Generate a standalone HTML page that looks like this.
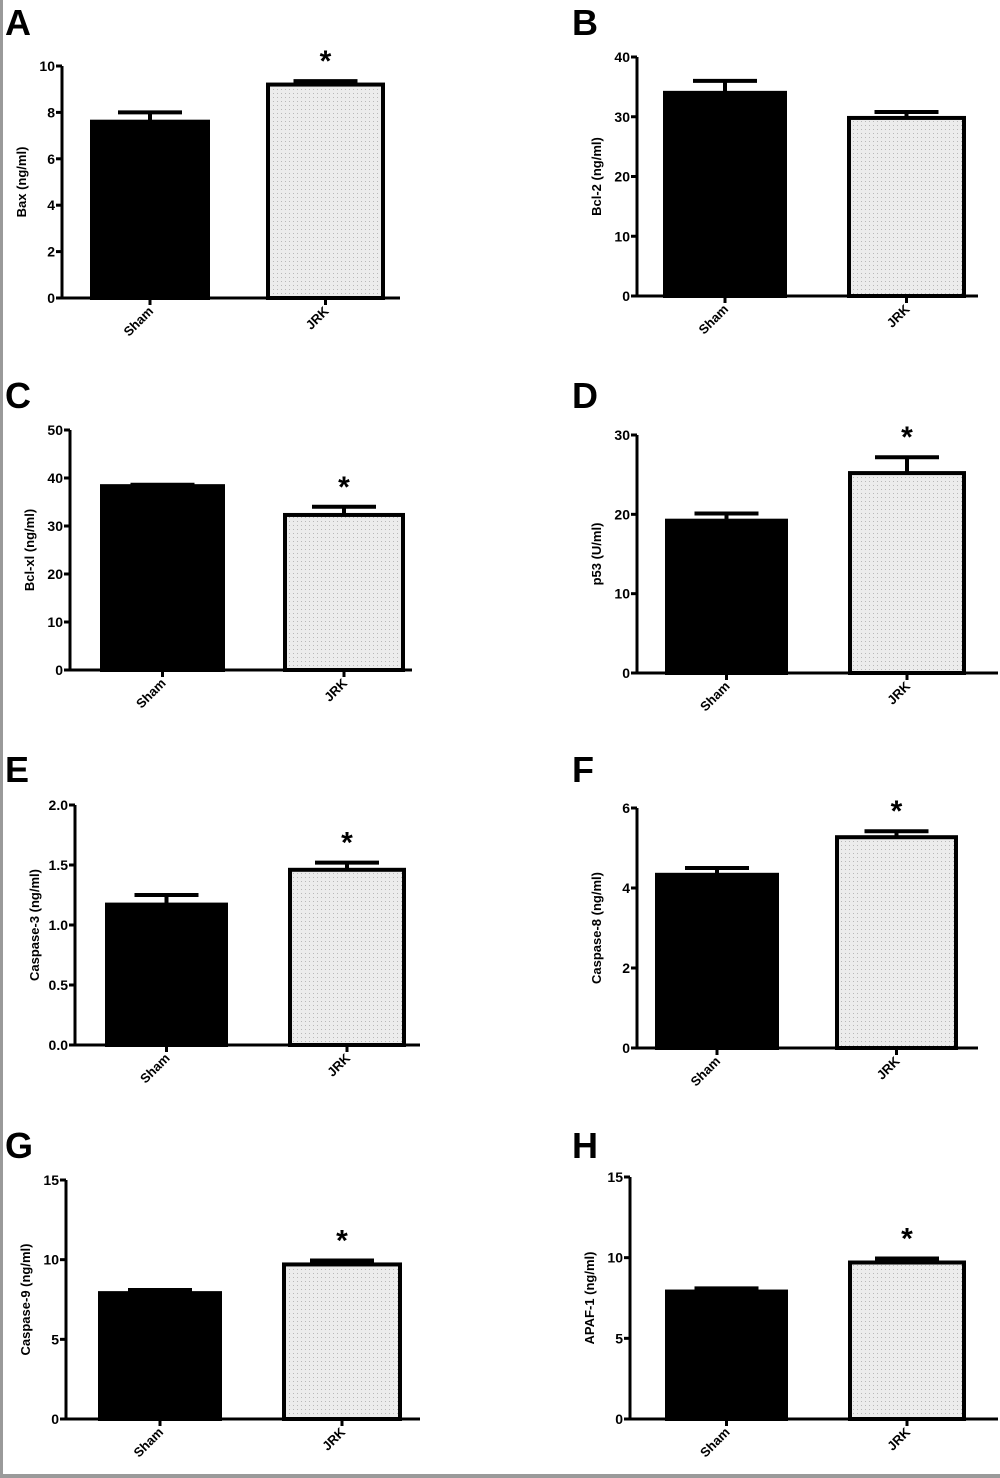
<!DOCTYPE html>
<html><head><meta charset="utf-8"><style>
html,body{margin:0;padding:0;background:#fff}
svg{display:block}
text{font-family:"Liberation Sans",sans-serif;font-weight:bold;fill:#000}
</style></head><body>
<svg id="fig" width="1000" height="1478" viewBox="0 0 1000 1478" xmlns="http://www.w3.org/2000/svg">
<defs>
<pattern id="dots" width="4" height="4" patternUnits="userSpaceOnUse">
<rect width="4" height="4" fill="#ececec"/><rect x="1" y="1" width="1" height="1" fill="#b8b8b8"/>
</pattern>
</defs>
<rect x="0" y="0" width="3" height="1478" fill="#9a9a9a"/>
<rect x="0" y="1474" width="1000" height="4" fill="#9a9a9a"/>
</svg>
<script>
const panelLetters = ["A","B","C","D","E","F","G","H"];
const yTitles = ["Bax (ng/ml)","Bcl-2 (ng/ml)","Bcl-xl (ng/ml)","p53 (U/ml)","Caspase-3 (ng/ml)","Caspase-8 (ng/ml)","Caspase-9 (ng/ml)","APAF-1 (ng/ml)"];
const categories = ["Sham","JRK"];
const yMax = [10,40,50,30,2,6,15,15];
const yStep = [2,10,10,10,0.5,2,5,5];
const shamMeans = [7.6,34,38.3,19.2,1.17,4.33,7.9,7.9];
const shamErr = [0.4,2,0.3,0.9,0.08,0.17,0.2,0.2];
const jrkMeans = [9.2,29.8,32.3,25.2,1.46,5.27,9.7,9.7];
const jrkErr = [0.15,1,1.7,2,0.06,0.15,0.25,0.25];
const significant = [true,false,true,true,true,true,true,true];

// layout (positions only)
const layout = [
 {lx:5,ly:5,ax:62,top:66,zero:298,end:400,b1:[90,210],b2:[266,385]},
 {lx:572,ly:5,ax:637,top:57,zero:296,end:978,b1:[663,787],b2:[847,966]},
 {lx:5,ly:378,ax:70,top:430,zero:670,end:412,b1:[100,225],b2:[283,405]},
 {lx:572,ly:378,ax:637,top:435,zero:673,end:998,b1:[665,788],b2:[848,966]},
 {lx:5,ly:752,ax:75,top:805,zero:1045,end:420,b1:[105,228],b2:[288,406]},
 {lx:572,ly:752,ax:637,top:808,zero:1048,end:978,b1:[655,779],b2:[835,958]},
 {lx:5,ly:1128,ax:66,top:1180,zero:1419,end:420,b1:[98,222],b2:[282,402]},
 {lx:572,ly:1128,ax:630,top:1177,zero:1419,end:998,b1:[665,788],b2:[848,966]}
];
const NS="http://www.w3.org/2000/svg";
const svg=document.getElementById('fig');
function mk(tag,attrs,parent){const e=document.createElementNS(NS,tag);for(const k in attrs)e.setAttribute(k,attrs[k]);parent.appendChild(e);return e;}
function fmt(v,step){return step<1?v.toFixed(1):String(v);}
panelLetters.forEach((L,i)=>{
 const p=layout[i];
 const g=mk('g',{},svg);
 
 
 const yScale=v=>p.zero-(v/yMax[i])*(p.zero-p.top);
 const lt=mk('text',{x:p.lx,y:p.ly+30,'font-size':36},g);lt.textContent=L;
 
 
 // bars
 const means=[shamMeans[i],jrkMeans[i]], errs=[shamErr[i],jrkErr[i]], bx=[p.b1,p.b2];
 means.forEach((m,j)=>{
  const x0=bx[j][0],x1=bx[j][1],cx=(x0+x1)/2;
  const eb=mk('g',{},g);
  
  
  mk('line',{x1:cx,x2:cx,y1:yScale(m),y2:yScale(m+errs[j]),stroke:'#000','stroke-width':4},eb);
  mk('line',{x1:cx-32,x2:cx+32,y1:yScale(m+errs[j]),y2:yScale(m+errs[j]),stroke:'#000','stroke-width':4},eb);
  const r=mk('rect',{x:x0+2,y:yScale(m),width:x1-x0-4,height:p.zero-yScale(m),fill:j===0?'#000':'url(#dots)',stroke:'#000','stroke-width':4},g);
  
  
  const tk=mk('line',{x1:cx,x2:cx,y1:p.zero,y2:p.zero+7,stroke:'#000','stroke-width':3},g);
  const lab=mk('text',{x:cx+4,y:p.zero+14,'font-size':13,'text-anchor':'end',transform:`rotate(-45 ${cx+4} ${p.zero+14})`},g);
  lab.textContent=categories[j];
  
  
 });
 if(significant[i]){
  const cx=(p.b2[0]+p.b2[1])/2;
  const st=mk('text',{x:cx,y:yScale(jrkMeans[i]+jrkErr[i])-10,'font-size':30,'text-anchor':'middle'},g);
  st.textContent='*';
  
  
 }
 // axes
 const ya=mk('line',{x1:p.ax,x2:p.ax,y1:p.top,y2:p.zero+1.5,stroke:'#000','stroke-width':3},g);
 
 
 const xa=mk('line',{x1:p.ax-1.5,x2:p.end,y1:p.zero,y2:p.zero,stroke:'#000','stroke-width':3},g);
 
 
 for(let v=0;v<=yMax[i]+1e-9;v+=yStep[i]){
  const y=yScale(v);
  mk('line',{x1:p.ax-6,x2:p.ax,y1:y,y2:y,stroke:'#000','stroke-width':3},g);
  const t=mk('text',{x:p.ax-7,y:y+5,'font-size':14,'text-anchor':'end'},g);
  t.textContent=fmt(v,yStep[i]);
  
  
 }
 const my=(p.top+p.zero)/2, tx=p.ax-36;
 const yt=mk('text',{x:tx,y:my,'font-size':13,'text-anchor':'middle',transform:`rotate(-90 ${tx} ${my})`},g);
 yt.textContent=yTitles[i];
 
 
});
</script>
</body></html>
